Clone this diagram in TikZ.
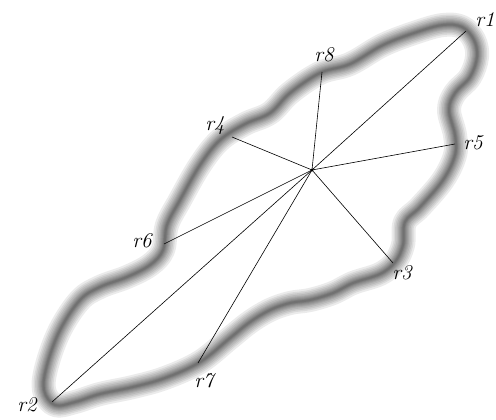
\documentclass[tikz,border=0pt]{standalone}
\usepackage{tikz}
\usetikzlibrary{calc}

\begin{document}
\begin{tikzpicture}[
  x=1pt, y=-1pt,
  rlbl/.style  = {font=\fontsize{21}{24}\selectfont\itshape, inner sep=0pt},
  rayln/.style = {draw=black, line width=0.6pt},
  hub/.style   = {circle, fill=black, inner sep=0pt, minimum size=3.2pt},
]
\useasboundingbox (0,0) rectangle (496,420);

%% ── Blurred outline of the region ─────────────────────────────────
\foreach \w in {24,20,17,14,11,9,7,5,3.5,2}{
  \draw[line width=\w pt, black, opacity=0.08, line join=round]
    plot[smooth cycle, tension=0.6] coordinates {
      (443,25) (462,27) (474,40) (477,57) (470,77) (455,93) (449,110)
      (455,135) (455,155) (443,180) (420,207) (405,222) (403,245)
      (395,262) (380,274) (353,283) (333,293) (310,300) (290,303)
      (270,310) (250,322) (230,338) (200,362) (165,378) (133,387)
      (100,394) (75,402) (55,405) (44,390) (47,365) (60,330) (80,300)
      (100,287) (127,277) (150,265) (163,250) (167,225) (180,200)
      (200,165) (220,140) (245,124) (270,113) (290,93) (320,73)
      (350,64) (383,45) (417,32)};
}

%% ── Hub and ray ends ──────────────────────────────────────────────
\node[hub] (c) at (312,170) {};
\coordinate (p1) at (466,31);
\coordinate (p2) at (52,402);
\coordinate (p3) at (393,263);
\coordinate (p4) at (232,137);
\coordinate (p5) at (455,144);
\coordinate (p6) at (164,244);
\coordinate (p7) at (198,363);
\coordinate (p8) at (322,72);

%% ── Rays ──────────────────────────────────────────────────────────
\foreach \i in {1,...,8}
  \draw[rayln] (c.center) -- (p\i);

%% ── Labels ────────────────────────────────────────────────────────
\node[rlbl] (lr1) at (485,20)  {r1};
\node[rlbl] (lr2) at (27,405)  {r2};
\node[rlbl] (lr3) at (402,273) {r3};
\node[rlbl] (lr4) at (215,126) {r4};
\node[rlbl] (lr5) at (473,143) {r5};
\node[rlbl] (lr6) at (142,241) {r6};
\node[rlbl] (lr7) at (204,381) {r7};
\node[rlbl] (lr8) at (324,55)  {r8};

\end{tikzpicture}
\end{document}
